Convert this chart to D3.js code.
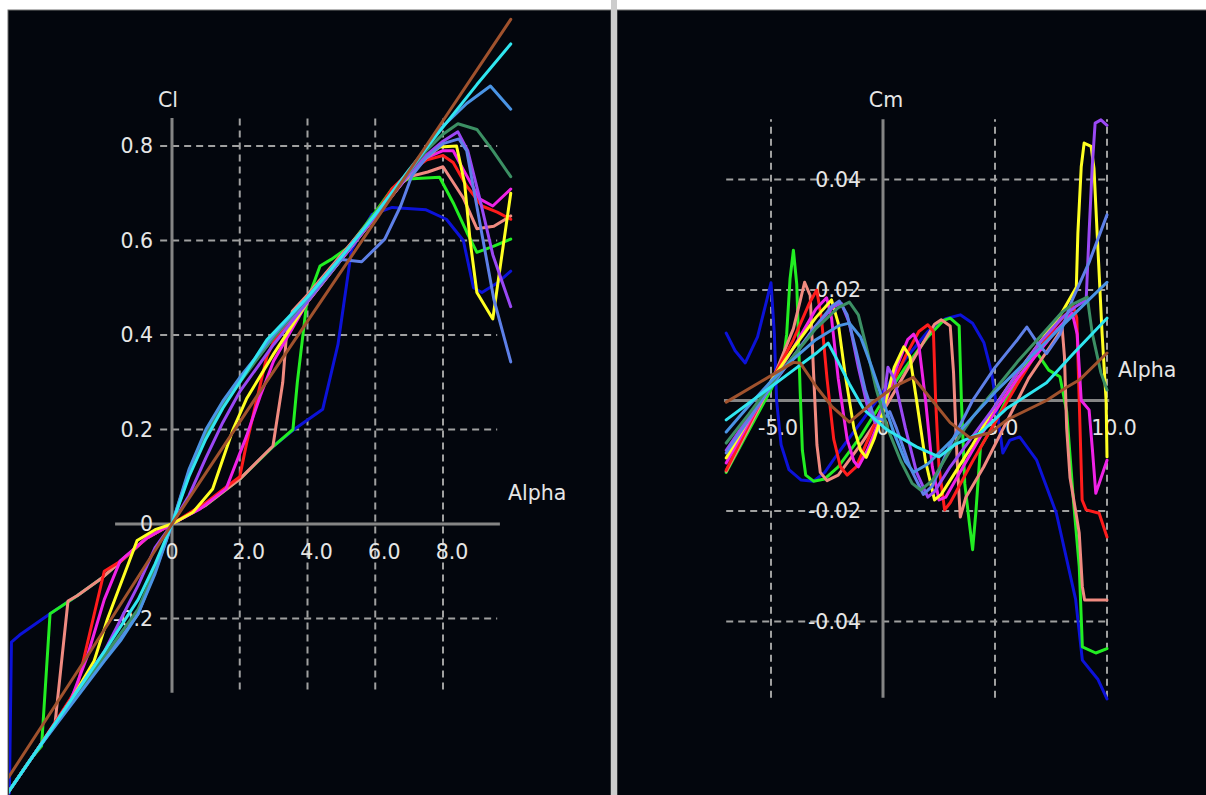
<!DOCTYPE html>
<html><head><meta charset="utf-8">
<script src="https://cdn.jsdelivr.net/npm/d3@7/dist/d3.min.js"></script>
<style>html,body{margin:0;padding:0;background:#fff;} svg{display:block;}</style>
</head><body><svg id="chart" width="1206" height="795"></svg>
<script>
// ---------- tick labels ----------
const clXTicks = [0, 2, 4, 6, 8];
const clXTickLabels = ["0", "2.0", "4.0", "6.0", "8.0"];
const clYTicks = [0.8, 0.6, 0.4, 0.2, 0, -0.2];
const clYTickLabels = ["0.8", "0.6", "0.4", "0.2", "0", "-0.2"];
const cmXTicks = [-5, 0, 5, 10];
const cmXTickLabels = ["-5.0", "0", "5.0", "10.0"];
const cmYTicks = [0.04, 0.02, -0.02, -0.04];
const cmYTickLabels = ["0.04", "0.02", "-0.02", "-0.04"];

// ---------- series ----------
const seriesNames = ["s1", "s2", "s3", "s4", "s5", "s6", "s7", "s8", "s9", "s10", "s11", "s12"];
const seriesColors = ["#0c12d8", "#22ee22", "#f08a80", "#ff1c1c", "#f022e6", "#ffff22", "#9a48f4", "#5e80e8", "#3c9064", "#4a94e4", "#30e6f0", "#a0522d"];

// Cl vs alpha  [alpha, Cl]
const clS1 = [[-7,-0.80],[-5,-0.585],[-4.8,-0.57],[-4.74,-0.25],[-4.5,-0.235],[-3.6,-0.19],[-2.8,-0.152],[-2.1,-0.116],[-1.5,-0.078],[-0.75,-0.03],[0,0],[1,0.04],[2,0.095],[3,0.165],[3.6,0.2],[4.45,0.243],[4.9,0.38],[5.3,0.58],[5.9,0.655],[6.5,0.67],[7.5,0.665],[8.1,0.645],[8.6,0.60],[8.9,0.50],[9.15,0.49],[9.6,0.51],[10,0.535]];
const clS2 = [[-7,-0.80],[-5,-0.585],[-4.2,-0.50],[-3.85,-0.47],[-3.6,-0.19],[-2.8,-0.152],[-2.1,-0.116],[-1.5,-0.078],[-0.75,-0.03],[0,0],[1,0.04],[2,0.095],[3,0.165],[3.57,0.2],[3.7,0.3],[3.98,0.47],[4.37,0.546],[4.7,0.56],[5.2,0.585],[6,0.66],[6.5,0.71],[6.96,0.73],[7.9,0.734],[8.3,0.68],[8.7,0.618],[9.0,0.575],[9.5,0.588],[10,0.603]];
const clS3 = [[-7,-0.80],[-5,-0.585],[-4,-0.48],[-3.45,-0.42],[-3.07,-0.163],[-2.8,-0.152],[-2.1,-0.116],[-1.5,-0.078],[-0.75,-0.03],[0,0],[1,0.04],[2,0.095],[2.98,0.165],[3.27,0.30],[3.38,0.40],[3.55,0.45],[4,0.485],[5,0.57],[6,0.655],[6.6,0.71],[7.0,0.735],[7.55,0.745],[8.0,0.756],[8.6,0.69],[9.0,0.625],[9.5,0.63],[10,0.652]];
const clS4 = [[-7,-0.80],[-5,-0.585],[-4,-0.48],[-3,-0.37],[-2.8,-0.345],[-2.0,-0.10],[-1.5,-0.078],[-0.75,-0.03],[0,0],[1,0.045],[2.0,0.1],[2.2,0.17],[2.8,0.355],[3.0,0.385],[4,0.48],[5,0.565],[6,0.655],[6.5,0.71],[7,0.745],[7.5,0.77],[8.0,0.78],[8.3,0.765],[8.7,0.715],[9.15,0.673],[9.6,0.66],[10,0.645]];
const clS5 = [[-7,-0.80],[-5,-0.585],[-4,-0.48],[-3,-0.375],[-2.5,-0.28],[-2.0,-0.16],[-1.53,-0.078],[-0.75,-0.03],[0,0],[0.83,0.032],[1.6,0.075],[2.2,0.186],[2.6,0.27],[3,0.345],[4,0.47],[5,0.56],[6,0.65],[7,0.74],[7.5,0.775],[8.0,0.79],[8.3,0.79],[8.6,0.75],[9.08,0.688],[9.47,0.673],[10,0.709]];
const clS6 = [[-7,-0.80],[-5,-0.585],[-4,-0.48],[-3,-0.375],[-2.3,-0.29],[-1.9,-0.2],[-1.03,-0.035],[-0.5,-0.012],[0,0],[0.62,0.025],[1.2,0.074],[1.8,0.2],[2.2,0.265],[3,0.36],[4,0.47],[5,0.56],[6,0.65],[7,0.74],[7.5,0.775],[7.9,0.798],[8.4,0.80],[8.64,0.72],[8.8,0.6],[9.0,0.49],[9.47,0.434],[9.76,0.58],[10,0.70]];
const clS7 = [[-7,-0.80],[-5,-0.585],[-4,-0.48],[-3,-0.375],[-2,-0.27],[-1.5,-0.2],[-1,-0.13],[-0.5,-0.05],[0,0],[0.5,0.06],[1,0.14],[1.5,0.215],[2,0.28],[3,0.38],[4,0.47],[5,0.56],[6,0.65],[7,0.74],[7.5,0.78],[8.0,0.81],[8.44,0.83],[8.73,0.79],[9.08,0.69],[9.47,0.57],[10,0.46]];
const clS8 = [[-7,-0.80],[-5,-0.585],[-4,-0.48],[-3,-0.38],[-2,-0.285],[-1.5,-0.24],[-1,-0.19],[-0.5,-0.1],[0,0],[0.5,0.11],[1,0.195],[1.5,0.255],[2,0.305],[3,0.395],[4,0.475],[5,0.56],[5.6,0.555],[6.28,0.603],[6.75,0.673],[7.08,0.737],[7.5,0.775],[8.0,0.805],[8.47,0.815],[8.7,0.79],[9.14,0.617],[9.5,0.476],[10,0.343]];
const clS9 = [[-7,-0.80],[-5,-0.585],[-4,-0.48],[-3,-0.38],[-2,-0.28],[-1.5,-0.23],[-1,-0.18],[-0.5,-0.095],[0,0],[0.5,0.105],[1,0.19],[1.5,0.25],[2,0.3],[3,0.395],[4,0.48],[5,0.565],[6,0.655],[7,0.745],[7.5,0.79],[8,0.825],[8.44,0.847],[9,0.835],[9.47,0.79],[10,0.735]];
const clS10 = [[-7,-0.80],[-5,-0.585],[-4,-0.48],[-3,-0.385],[-2,-0.29],[-1.5,-0.245],[-1,-0.19],[-0.5,-0.105],[0,0],[0.5,0.115],[1,0.2],[1.5,0.26],[2,0.31],[3,0.4],[4,0.48],[5,0.565],[6,0.655],[7,0.745],[7.9,0.835],[8.7,0.89],[9.4,0.927],[10,0.878]];
const clS11 = [[-7,-0.79],[-6,-0.69],[-5,-0.585],[-4,-0.48],[-3,-0.375],[-2,-0.27],[-1.5,-0.215],[-1,-0.16],[-0.5,-0.085],[0,0],[0.5,0.1],[1,0.18],[1.5,0.245],[2,0.3],[2.8,0.39],[4,0.48],[5,0.565],[6,0.655],[7,0.75],[8,0.84],[9,0.93],[10,1.016]];
const clS12 = [[-7,-0.77],[-5,-0.555],[-2.5,-0.28],[0,0],[2.5,0.27],[5,0.535],[7.5,0.80],[10,1.068]];

// Cm vs alpha  [alpha, Cm]
const cmS1 = [[-7.0,0.0122],[-6.6,0.009],[-6.15,0.0068],[-5.6,0.0115],[-5.2,0.018],[-5.0,0.0213],[-4.85,0.012],[-4.75,0.0],[-4.55,-0.008],[-4.2,-0.0125],[-3.65,-0.0144],[-3.1,-0.0146],[-2.6,-0.013],[-2.0,-0.0095],[-1.0,-0.004],[0,0.0015],[1.0,0.0075],[2.0,0.0125],[2.8,0.0148],[3.45,0.0155],[4.0,0.014],[4.5,0.0105],[4.85,0.005],[5.1,-0.002],[5.35,-0.0095],[5.66,-0.0072],[6.1,-0.0066],[6.86,-0.0108],[7.74,-0.0204],[8.6,-0.036],[8.9,-0.047],[9.3,-0.049],[9.6,-0.0505],[10,-0.054]];
const cmS2 = [[-7.0,-0.013],[-6,-0.0055],[-5,0.002],[-4.5,0.006],[-4.3,0.012],[-4.15,0.022],[-4.0,0.0272],[-3.85,0.021],[-3.7,0.002],[-3.6,-0.009],[-3.45,-0.0135],[-3.1,-0.0146],[-2.6,-0.0142],[-2,-0.012],[-1,-0.0065],[0,0.0],[1,0.006],[2,0.0115],[2.7,0.0145],[3.0,0.0149],[3.4,0.0135],[3.5,0.0],[3.65,-0.015],[3.85,-0.022],[4.0,-0.027],[4.15,-0.02],[4.35,-0.0085],[5,-0.004],[5.8,0.0025],[6.5,0.007],[6.9,0.0085],[7.4,0.0055],[7.9,0.0043],[8.2,-0.002],[8.5,-0.018],[8.76,-0.030],[8.9,-0.0446],[9.5,-0.0457],[10,-0.0449]];
const cmS3 = [[-7.0,-0.0128],[-6,-0.005],[-5,0.003],[-4,0.013],[-3.7,0.018],[-3.5,0.0214],[-3.25,0.019],[-3.1,0.005],[-2.95,-0.008],[-2.8,-0.013],[-2.5,-0.0145],[-2.0,-0.0135],[-1,-0.008],[0,-0.002],[1,0.005],[1.8,0.0105],[2.3,0.0138],[2.6,0.0146],[3.0,0.0135],[3.15,0.005],[3.3,-0.01],[3.45,-0.0211],[3.7,-0.0175],[4.5,-0.012],[5.5,-0.004],[6.5,0.004],[7.5,0.01],[8.0,0.013],[8.1,0.008],[8.2,-0.005],[8.35,-0.014],[8.6,-0.02],[8.76,-0.024],[8.9,-0.0337],[9.0,-0.0361],[10,-0.0361]];
const cmS4 = [[-7.0,-0.0126],[-6,-0.0045],[-5,0.0035],[-4,0.011],[-3.3,0.0175],[-2.96,0.02],[-2.75,0.015],[-2.5,0.004],[-2.2,-0.007],[-1.9,-0.012],[-1.6,-0.0135],[-1.2,-0.012],[-0.5,-0.0055],[0.3,0.002],[1.0,0.008],[1.6,0.0125],[2.0,0.0137],[2.25,0.0125],[2.35,0.0],[2.5,-0.012],[2.75,-0.0198],[3.0,-0.0185],[4,-0.011],[5,-0.004],[6,0.003],[7,0.0095],[7.8,0.014],[8.5,0.017],[8.65,0.015],[8.76,0.0],[8.89,-0.018],[9.07,-0.0198],[9.65,-0.0204],[10,-0.0247]];
const cmS5 = [[-7.0,-0.0113],[-6,-0.004],[-5,0.003],[-4,0.0095],[-3,0.0165],[-2.52,0.0186],[-2.3,0.015],[-2.0,0.004],[-1.6,-0.007],[-1.3,-0.011],[-1.1,-0.012],[-0.7,-0.009],[0,-0.002],[0.6,0.006],[1.1,0.011],[1.37,0.012],[1.6,0.01],[1.9,0.0],[2.2,-0.012],[2.5,-0.018],[2.8,-0.0175],[4,-0.009],[5,-0.002],[6,0.004],[7,0.009],[7.8,0.013],[8.45,0.0158],[8.67,0.012],[8.85,0.0],[9.2,-0.0017],[9.35,-0.009],[9.5,-0.0168],[9.96,-0.0113],[10,-0.0108]];
const cmS6 = [[-7.0,-0.0104],[-6,-0.0035],[-5,0.0035],[-4,0.0095],[-3,0.015],[-2.3,0.0182],[-2.0,0.014],[-1.7,0.005],[-1.3,-0.005],[-1.0,-0.009],[-0.75,-0.0103],[-0.4,-0.007],[0,-0.002],[0.5,0.006],[0.93,0.0097],[1.2,0.008],[1.5,0.0],[1.9,-0.011],[2.3,-0.018],[2.6,-0.017],[4,-0.008],[5,-0.001],[6,0.005],[7,0.0105],[8,0.016],[8.63,0.0205],[8.7,0.0303],[8.85,0.0423],[8.98,0.0466],[9.29,0.046],[9.42,0.042],[9.56,0.0303],[9.78,0.0122],[9.96,0.0],[10,-0.0102]];
const cmS7 = [[-7.0,-0.009],[-6,-0.003],[-5,0.0025],[-4,0.008],[-3,0.0135],[-2.2,0.017],[-1.86,0.0176],[-1.5,0.014],[-1.1,0.006],[-0.7,-0.001],[-0.35,-0.004],[0,-0.001],[0.22,0.006],[0.5,0.004],[1.0,-0.005],[1.5,-0.013],[2.0,-0.0175],[2.3,-0.0165],[3,-0.012],[4,-0.0065],[5,-0.001],[6,0.005],[7,0.0105],[8,0.015],[8.6,0.017],[9.07,0.0182],[9.2,0.0303],[9.34,0.0423],[9.47,0.0502],[9.73,0.0508],[10,0.0498]];
const cmS8 = [[-7.0,-0.0095],[-6,-0.0035],[-5,0.0025],[-4,0.008],[-3,0.0135],[-2.3,0.017],[-1.95,0.018],[-1.6,0.0155],[-1.2,0.009],[-0.8,0.002],[-0.4,-0.003],[0,-0.0035],[0.3,-0.002],[0.6,-0.005],[1.2,-0.012],[1.8,-0.017],[2.2,-0.0155],[3,-0.008],[4,0.0],[5,0.006],[6,0.011],[6.42,0.0133],[6.9,0.0104],[7.3,0.0085],[7.9,0.012],[8.45,0.0182],[9.2,0.025],[10,0.0336]];
const cmS9 = [[-7.0,-0.0077],[-6,-0.0025],[-5,0.003],[-4,0.008],[-3,0.013],[-2,0.0168],[-1.5,0.0178],[-1.1,0.0155],[-0.7,0.009],[-0.3,0.002],[0.2,-0.005],[0.8,-0.011],[1.3,-0.015],[1.68,-0.0162],[2.2,-0.0145],[3,-0.009],[4,-0.003],[5,0.002],[6,0.007],[7,0.0115],[8,0.016],[8.5,0.0175],[9.12,0.0187],[9.34,0.0122],[9.73,0.005],[10,0.0019]];
const cmS10 = [[-7.0,-0.0057],[-6,-0.001],[-5,0.0035],[-4,0.0075],[-3,0.011],[-2,0.0135],[-1.5,0.014],[-1.0,0.0115],[-0.5,0.006],[0,0.0],[0.5,-0.006],[1.0,-0.011],[1.37,-0.013],[2,-0.0115],[3,-0.0075],[4,-0.003],[5,0.0015],[6,0.0055],[7,0.0095],[8,0.0135],[9,0.0175],[10,0.0214]];
const cmS11 = [[-7.0,-0.0035],[-6,-0.0005],[-5,0.0025],[-4,0.0055],[-3,0.0085],[-2.45,0.0104],[-2.0,0.007],[-1.5,0.003],[-0.84,-0.0017],[0.18,-0.0053],[1.5,-0.0084],[2.5,-0.0102],[3.2,-0.008],[4.34,-0.0059],[5.5,-0.0015],[7.3,0.0032],[8.5,0.0085],[10,0.0149]];
const cmS12 = [[-7.0,-0.0003],[-5.5,0.0033],[-4.0,0.0069],[-3.7,0.0068],[-2.96,0.0024],[-2.3,-0.001],[-1.5,-0.0039],[-0.5,-0.0005],[0.5,0.0025],[1.35,0.0042],[2.2,0.0],[3.0,-0.004],[3.9,-0.0068],[4.8,-0.0058],[5.53,-0.0035],[7.3,0.0],[8.2,0.0024],[8.76,0.0037],[10,0.0086]];

const clData = [clS1, clS2, clS3, clS4, clS5, clS6, clS7, clS8, clS9, clS10, clS11, clS12];
const cmData = [cmS1, cmS2, cmS3, cmS4, cmS5, cmS6, cmS7, cmS8, cmS9, cmS10, cmS11, cmS12];

// ---------- drawing ----------
const svg = d3.select("#chart");
const panelBg = "#03060d";
const textColor = "#e6e6e6";
const gridColor = "#a0a0a0";
const axisColor = "#858585";
const font = "DejaVu Sans, Verdana, sans-serif";

const defs = svg.append("defs");
function panel(id, x, y, w, h) {
  svg.append("rect").attr("x", x).attr("y", y).attr("width", w).attr("height", h)
    .attr("fill", panelBg).attr("stroke", "#6e6e6e").attr("stroke-width", 1);
  defs.append("clipPath").attr("id", id).append("rect")
    .attr("x", x + 1).attr("y", y + 1).attr("width", w - 2).attr("height", h - 2);
}
panel("clipL", 8, 10, 603, 790);
panel("clipR", 617, 10, 595, 790);
svg.append("rect").attr("x", 611).attr("y", 0).attr("width", 6).attr("height", 795).attr("fill", "#cdcdcd");

function drawChart(opts) {
  const {x, y, xTicks, xLabels, yTicks, yLabels, xAxisExt, yAxisExt, hGridExt, vGridExt,
         xLabelOffset, xLabelY, yLabelX, title, titlePos, alphaPos, data, clip} = opts;
  const g = svg.append("g");
  // grid
  g.selectAll(".vg").data(xTicks.filter(t => t !== 0)).join("line")
    .attr("x1", d => x(d)).attr("x2", d => x(d))
    .attr("y1", y(vGridExt[0])).attr("y2", y(vGridExt[1]))
    .attr("stroke", gridColor).attr("stroke-width", 2).attr("stroke-dasharray", "7,5");
  g.selectAll(".hg").data(yTicks.filter(t => t !== 0)).join("line")
    .attr("x1", x(hGridExt[0])).attr("x2", x(hGridExt[1]))
    .attr("y1", d => y(d)).attr("y2", d => y(d))
    .attr("stroke", gridColor).attr("stroke-width", 2).attr("stroke-dasharray", "7,5");
  // axes
  g.append("line").attr("x1", x(xAxisExt[0])).attr("x2", x(xAxisExt[1]))
    .attr("y1", y(0)).attr("y2", y(0)).attr("stroke", axisColor).attr("stroke-width", 3);
  g.append("line").attr("x1", x(0)).attr("x2", x(0))
    .attr("y1", y(yAxisExt[0])).attr("y2", y(yAxisExt[1])).attr("stroke", axisColor).attr("stroke-width", 3);
  // labels
  const tg = g.append("g").attr("fill", textColor).style("font-family", font).style("font-size", "20.5px");
  tg.selectAll(".yl").data(yTicks).join("text")
    .attr("x", yLabelX).attr("y", d => y(d)).attr("dy", "0.36em").attr("text-anchor", "end")
    .text((d, i) => yLabels[i]);
  tg.selectAll(".xl").data(xTicks).join("text")
    .attr("x", d => x(d) + (d === 0 ? 0 : xLabelOffset)).attr("y", xLabelY).attr("dy", "0.36em")
    .attr("text-anchor", "middle").text((d, i) => xLabels[i]);
  tg.append("text").attr("x", titlePos[0]).attr("y", titlePos[1]).attr("dy", "0.36em")
    .attr("text-anchor", "middle").text(title);
  tg.append("text").attr("x", alphaPos[0]).attr("y", alphaPos[1]).attr("dy", "0.36em")
    .attr("text-anchor", "start").text("Alpha");
  // curves
  const line = d3.line().x(d => x(d[0])).y(d => y(d[1]));
  g.append("g").attr("clip-path", `url(#${clip})`)
    .selectAll("path").data(data).join("path")
    .attr("d", line).attr("fill", "none")
    .attr("stroke", (d, i) => seriesColors[i]).attr("stroke-width", 3)
    .attr("stroke-linejoin", "round").attr("stroke-linecap", "round");
}

const xL = d3.scaleLinear().domain([0, 8]).range([172, 443]);
const yL = d3.scaleLinear().domain([0, 0.8]).range([524, 146]);
drawChart({
  x: xL, y: yL, xTicks: clXTicks, xLabels: clXTickLabels, yTicks: clYTicks, yLabels: clYTickLabels,
  xAxisExt: [-1.68, 9.68], yAxisExt: [-0.357, 0.859], hGridExt: [-0.35, 9.6], vGridExt: [-0.35, 0.859],
  xLabelOffset: 9, xLabelY: 552, yLabelX: 153, title: "Cl", titlePos: [168, 100], alphaPos: [508, 493],
  data: clData, clip: "clipL"
});

const xR = d3.scaleLinear().domain([-5, 10]).range([771, 1107]);
const yR = d3.scaleLinear().domain([0, 0.04]).range([400.5, 179.5]);
drawChart({
  x: xR, y: yR, xTicks: cmXTicks, xLabels: cmXTickLabels, yTicks: cmYTicks, yLabels: cmYTickLabels,
  xAxisExt: [-7.1, 10.1], yAxisExt: [-0.0538, 0.0509], hGridExt: [-7.0, 10.1], vGridExt: [-0.0538, 0.0509],
  xLabelOffset: 7, xLabelY: 428, yLabelX: 861, title: "Cm", titlePos: [886, 100], alphaPos: [1118, 370],
  data: cmData, clip: "clipR"
});
</script></body></html>
